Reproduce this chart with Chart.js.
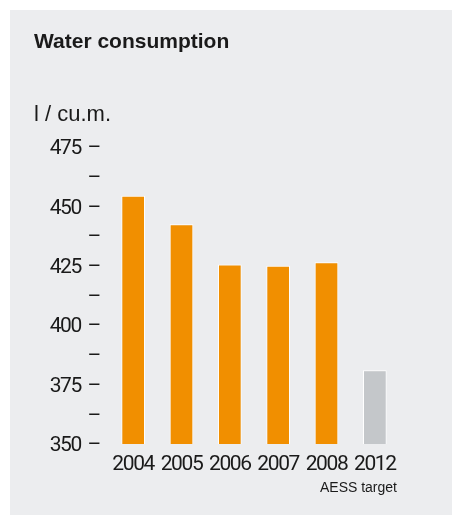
<!DOCTYPE html>
<html>
<head>
<meta charset="utf-8">
<script src="https://cdn.jsdelivr.net/npm/chart.js@4/dist/chart.umd.min.js"></script>
<style>
  html, body { margin: 0; padding: 0; background: #ffffff; }
  #wrap { position: relative; width: 452px; height: 515px; overflow: hidden; }
  #panel { position: absolute; left: 10px; top: 10px; right: 0; bottom: 0; background: #ecedef; }
  #chart { position: absolute; left: 0; top: 0; }
  .txt { position: absolute; white-space: nowrap; color: #1a1a1a; font-family: "Liberation Sans", Arial, sans-serif; }
  #title { left: 34px; top: 30px; font-size: 21px; line-height: 21px; font-weight: bold; }
  #unit { left: 34px; top: 103px; font-size: 22px; line-height: 22px; }
  #note { right: 55px; top: 480px; font-size: 14px; line-height: 14px; }
</style>
</head>
<body>
<div id="wrap">
  <div id="panel"></div>
  <canvas id="chart" width="452" height="515"></canvas>
  <div class="txt" id="title">Water consumption</div>
  <div class="txt" id="unit">l / cu.m.</div>
  <div class="txt" id="note">AESS target</div>
</div>
<script>
// Water consumption per cubic metre, by year (2012 = AESS target)
const years = ['2004', '2005', '2006', '2007', '2008', '2012'];
const consumption = [454.5, 442.5, 425.5, 425, 426.5, 381];
const barColors = ['#f18f00', '#f18f00', '#f18f00', '#f18f00', '#f18f00', '#c4c7ca'];
const axisMin = 350;
const axisMax = 475;
const minorStep = 12.5;
const labelStep = 25;

const numFont = { family: 'Roboto, "Liberation Sans", sans-serif', size: 21 };

// tighten the digits a little so the axis numbers read narrow
const tightText = {
  id: 'tightText',
  beforeDraw(chart) { chart.ctx.letterSpacing = '-1.4px'; }
};

new Chart(document.getElementById('chart'), {
  type: 'bar',
  data: {
    labels: years,
    datasets: [{
      data: consumption,
      backgroundColor: barColors,
      borderColor: '#ffffff',
      borderWidth: 1,
      borderSkipped: false,
      categoryPercentage: 1,
      barPercentage: 0.49
    }]
  },
  plugins: [tightText],
  options: {
    responsive: false,
    animation: false,
    layout: { padding: { left: 0, right: 53, top: 147, bottom: 0 } },
    plugins: { legend: { display: false }, tooltip: { enabled: false } },
    scales: {
      x: {
        grid: { display: false, drawTicks: false },
        border: { display: false },
        ticks: { color: '#1a1a1a', font: numFont, padding: 8, maxRotation: 0, autoSkip: false },
        afterFit: (s) => { s.height = 71; }
      },
      y: {
        min: axisMin,
        max: axisMax,
        grid: { display: false, drawTicks: false },
        border: { display: false },
        ticks: {
          stepSize: minorStep,
          autoSkip: false,
          color: '#1a1a1a',
          font: numFont,
          padding: 9,
          labelOffset: 2,
          callback: (v) => (v % labelStep === 0 ? v + ' \u2009\u2013' : '\u2013')
        },
        afterFit: (s) => { s.width = 109; }
      }
    }
  }
});
</script>
</body>
</html>
